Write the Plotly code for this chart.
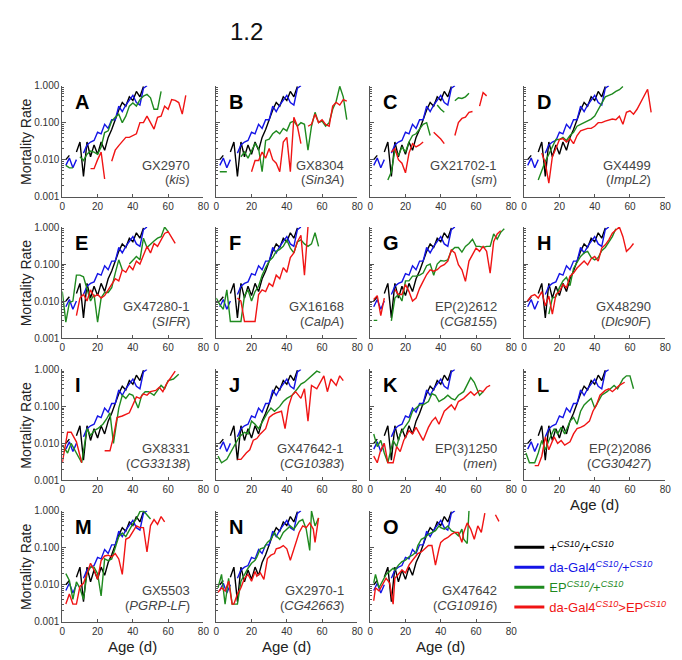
import plotly.graph_objects as go

# ---------------- data (mortality rate by age in days) ----------------
# shared controls
BLACK_AGE = [2,4,6,8,10,12,14,16,18,20,22,24,26,28,30,32,34,36,38,40,42,44,46]
BLACK_VAL = [0.010,0.013,None,0.016,0.03,0.0035,0.03,0.012,0.025,0.014,0.03,0.018,0.04,0.065,0.12,0.22,0.35,0.28,0.5,0.4,0.7,0.5,0.95]
BLUE_AGE = [2,4,6,8,10,12,14,16,18,20,22,24,26,28,30,32,34,36,38,40,42,44,46,48]
BLUE_VAL = [0.007,0.011,0.006,0.010,None,0.015,0.025,0.03,0.033,0.055,0.05,0.09,0.07,0.12,0.12,0.28,0.2,0.3,0.42,0.55,0.35,0.3,0.85,1.0]

A_GREEN_AGE = [2,4,6,8,10,12,14,16,18,20,22,24,26,28,30,32,34,36,38,40,42,44,46,48,50,52,54,56]
A_GREEN_VAL = [0.007,0.006,0.006,None,0.012,0.0095,0.014,0.017,0.016,0.014,0.022,0.054,0.06,0.11,0.14,0.17,0.1,0.15,0.28,0.34,0.28,0.42,0.52,0.58,0.47,0.23,0.23,0.7]
A_RED_AGE = [16,18,20,22,24,26,28,30,32,34,36,38,40,42,44,46,48,50,52,54,56,58,60,62,64,66,68,70]
A_RED_VAL = [0.0057,0.0057,0.01,0.016,0.003,None,0.009,0.018,0.024,0.03,0.04,0.04,0.044,0.05,0.1,0.1,0.15,0.1,0.067,0.14,0.15,0.28,0.23,0.42,0.4,0.35,0.17,0.55]

B_GREEN_AGE = [2,4,6,8,10,12,14,16,18,20,22,24,26,28,30,32,34,36,38,40,42,44,46,48,50,52,54,56,58,60,62,64,66,68,70,72,74]
B_GREEN_VAL = [0.0047,0.0047,0.0047,None,None,None,0.012,0.016,0.011,0.018,0.027,0.02,0.0047,0.033,0.036,0.05,0.06,0.05,0.07,0.06,0.1,0.11,0.08,0.1,0.09,0.018,0.08,0.19,0.1,0.11,0.08,0.1,0.23,0.38,0.96,0.5,0.12]
B_RED_AGE = [20,22,24,26,28,30,32,34,36,38,40,42,44,46,48,50,52,54,56,58,60,62,64,66,68,70,72,74]
B_RED_VAL = [0.0047,0.0095,0.0095,0.016,0.011,0.02,0.01,0.008,0.0047,0.03,0.04,0.0047,0.14,0.08,0.027,None,0.08,0.09,0.17,0.1,0.12,0.09,0.08,0.28,0.35,0.3,0.42,0.38]

C_GREEN_AGE = [10,12,14,16,18,20,22,24,26,28,30,32,34,36,38,40,42,44,46,48,50,52,54,56]
C_GREEN_VAL = [0.0028,0.0047,0.018,0.013,0.022,0.016,0.03,0.045,0.05,0.07,0.09,0.1,0.045,None,0.3,0.23,0.19,None,None,0.39,0.47,0.45,0.5,0.62]
C_RED_AGE = [12,14,16,18,20,22,24,26,28,30,32,34,36,38,40,42,44,46,48,50,52,54,56,58,60,62,64,66]
C_RED_VAL = [0.016,0.02,0.01,0.008,0.0044,0.015,0.027,0.022,0.025,0.03,None,None,0.055,0.045,0.036,0.027,None,None,0.045,0.1,0.13,0.14,0.19,0.2,None,0.28,0.65,0.53]

D_GREEN_AGE = [8,10,12,14,16,18,20,22,24,26,28,30,32,34,36,38,40,42,44,46,48,50,52,54,56]
D_GREEN_VAL = [0.0028,0.005,0.009,0.014,0.022,0.035,0.035,0.04,0.033,0.045,0.055,0.08,0.09,0.1,0.11,0.125,0.15,0.23,0.33,0.5,0.55,0.6,0.7,0.78,0.95]
D_RED_AGE = [10,12,14,16,18,20,22,24,26,28,30,32,34,36,38,40,42,44,46,48,50,52,54,56,58,60,62,64,66,68,70,72]
D_RED_VAL = [0.015,0.008,0.0023,0.012,0.02,0.035,0.037,0.03,0.037,0.027,0.045,0.06,0.065,0.07,0.07,0.08,0.1,0.1,0.11,0.12,0.125,0.12,0.15,0.09,0.19,0.21,0.17,0.23,0.35,0.5,0.8,0.19]

E_GREEN_AGE = [0,2,4,6,8,10,12,14,16,18,20,22,24,26,28,30,32,34,36,38,40,42,44,46,48,50,52,54,56,58,60]
E_GREEN_VAL = [0.018,0.0027,0.009,0.01,0.05,0.05,0.045,0.02,0.01,0.015,0.0027,0.012,0.017,0.017,0.023,0.057,0.13,0.07,None,0.1,0.13,0.16,0.13,0.5,0.28,0.35,0.42,0.5,0.55,1.0,0.75]
E_RED_AGE = [8,10,12,14,16,18,20,22,24,26,28,30,32,34,36,38,40,42,44,46,48,50,52,54,56,58,60,62,64]
E_RED_VAL = [0.004,0.012,0.015,0.01,0.02,0.013,0.015,0.012,0.014,0.02,0.028,0.04,0.035,0.07,0.06,0.09,0.07,0.12,0.1,0.18,0.3,0.2,0.36,0.3,0.45,0.67,0.75,0.5,0.36]

F_GREEN_AGE = [0,2,4,6,8,10,12,14,16,18,20,22,24,26,28,30,32,34,36,38,40,42,44,46,48,50,52,54,56,58]
F_GREEN_VAL = [0.012,0.008,0.006,0.02,0.0028,0.0028,0.0028,0.0028,0.014,0.02,0.01,0.018,0.025,0.05,0.08,0.12,0.15,0.22,0.25,0.3,0.45,0.27,0.2,0.4,0.45,0.35,0.3,0.35,0.7,0.3]
F_RED_AGE = [12,14,16,18,20,22,24,26,28,30,32,34,36,38,40,42,44,46,48,50,52]
F_RED_VAL = [0.012,0.01,0.0028,0.0028,0.0028,0.0028,0.015,0.02,0.018,0.03,0.025,0.05,0.04,0.08,0.06,0.15,0.2,0.4,0.6,0.05,1.0]

G_GREEN_AGE = [2,4,6,8,10,12,14,16,18,20,22,24,26,28,30,32,34,36,38,40,42,44,46,48,50,52,54,56,58,60,62,64,66,68,70,72,74,76]
G_GREEN_VAL = [0.003,0.003,None,None,None,0.0029,0.012,0.015,0.01,0.035,0.035,0.047,0.047,0.05,0.057,0.09,0.1,0.05,0.1,0.125,0.12,0.13,0.23,0.28,0.28,0.21,0.3,0.36,0.47,0.3,0.3,0.28,0.3,0.3,0.65,0.47,0.72,0.9]
G_RED_AGE = [2,4,6,8,10,12,14,16,18,20,22,24,26,28,30,32,34,36,38,40,42,44,46,48,50,52,54,56,58,60,62,64,66,68,70,72,74]
G_RED_VAL = [0.011,0.014,0.004,0.012,None,None,0.0205,0.015,0.015,0.028,0.018,0.01,0.012,0.022,0.034,0.052,0.07,0.064,0.07,0.087,0.096,0.12,0.24,0.2,0.096,0.07,0.034,0.12,0.18,0.27,0.22,0.3,0.22,0.057,0.4,0.65,0.8]

H_GREEN_AGE = [14,16,18,20,22,24,26,28,30,32,34,36,38,40,42,44,46,48,50,52]
H_GREEN_VAL = [0.0044,0.012,0.013,0.023,0.035,0.044,0.026,0.076,0.11,0.16,0.2,0.22,0.15,0.13,0.15,0.23,0.28,0.38,0.55,0.9]
H_RED_AGE = [2,4,6,8,10,12,14,16,18,20,22,24,26,28,30,32,34,36,38,40,42,44,46,48,50,52,54,56,58,60,62]
H_RED_VAL = [0.01,0.0136,0.015,0.012,0.018,0.0074,0.0136,0.0044,0.015,0.018,0.028,0.023,0.047,0.057,0.078,0.095,0.12,0.095,0.14,0.16,0.12,0.27,0.33,0.45,0.68,0.83,1.0,0.55,0.22,0.27,0.36]

I_GREEN_AGE = [0,3,5,7,11,14,16,18,20,23,25,27,29,32,34,36,38,40,43,45,47,49,52,54,56,58,60,63,66]
I_GREEN_VAL = [0.009,0.0055,0.01,0.0067,0.003,0.025,0.0165,0.022,0.025,0.033,0.045,0.067,0.01,0.09,0.2,0.165,0.22,0.2,0.09,0.2,0.25,0.25,0.2,0.27,0.37,0.3,0.5,0.55,0.74]
I_RED_AGE = [0,3,5,8,11,18,24,27,29,31,34,36,38,42,44,46,48,50,53,55,57,59,62,64]
I_RED_VAL = [0.003,0.02,0.02,0.011,0.003,None,0.0063,0.0063,0.015,0.05,0.055,0.06,0.067,0.18,0.165,0.22,0.2,0.25,0.27,0.33,0.25,0.4,0.67,0.9]

J_GREEN_AGE = [1,3,6,8,10,13,16,18,20,22,24,27,29,31,33,36,38,40,43,46,48,50,52,54,57,59]
J_GREEN_VAL = [0.0045,0.003,0.0037,0.0055,0.0082,0.015,0.02,0.018,0.04,0.033,0.025,0.045,0.067,0.09,0.074,0.1,0.135,0.165,0.2,0.3,0.4,0.45,0.55,0.67,0.9,0.82]
J_RED_AGE = [12,14,17,19,21,23,25,28,30,32,34,37,39,41,43,45,48,50,52,54,57,59,61,63,65,68,70,72]
J_RED_VAL = [0.0037,0.0037,0.0055,0.0067,0.0122,0.0135,0.018,0.025,0.05,0.06,0.067,0.074,0.025,0.1,0.2,0.25,0.165,0.3,0.04,0.37,0.3,0.45,0.67,0.25,0.55,0.37,0.67,0.5]

K_GREEN_AGE = [2,4,6,8,10,13,15,17,19,22,24,26,28,30,33,35,37,39,42,44,46,48,50,53,55,57,59,62,64]
K_GREEN_VAL = [0.018,0.0082,0.012,0.0055,0.003,0.012,0.0082,0.018,0.025,0.04,0.074,0.09,0.11,0.11,0.135,0.22,0.2,0.135,0.165,0.2,0.165,0.15,0.2,0.25,0.37,0.6,0.45,0.2,0.25]
K_RED_AGE = [2,4,6,8,10,13,15,17,19,22,24,26,28,30,33,35,37,39,42,44,46,48,50,53,55,57,59,62,64,66,68]
K_RED_VAL = [0.0045,0.003,0.0067,0.01,0.003,0.003,0.0082,0.006,0.012,0.022,0.018,0.027,0.018,0.012,0.027,0.04,0.05,0.033,0.074,0.09,0.11,0.082,0.135,0.165,0.2,0.25,0.2,0.27,0.25,0.33,0.37]

L_GREEN_AGE = [1,3,6,8,10,12,14,17,19,21,23,26,28,30,32,34,36,38,40,42,44,47,49,51,53,56,58,60,62]
L_GREEN_VAL = [0.0055,0.003,0.003,0.0055,0.012,0.0067,0.012,0.025,0.018,0.027,0.018,0.04,0.05,0.033,0.074,0.11,0.135,0.165,0.09,0.135,0.2,0.25,0.3,0.37,0.3,0.55,0.67,0.67,0.3]
L_RED_AGE = [6,8,10,12,14,17,19,21,23,26,28,30,32,34,37,39,41,43,46,48,50,52,54,57]
L_RED_VAL = [0.0025,0.0025,0.0045,0.015,0.0067,0.015,0.01,0.012,0.009,0.011,0.018,0.025,0.027,0.03,0.04,0.074,0.11,0.2,0.27,0.3,0.25,0.3,0.37,0.45]

M_GREEN_AGE = [2,4,6,8,10,12,14,16,18,20,22,24,26,28,30,32,34,36,38,40,42,44,46,48,50]
M_GREEN_VAL = [0.02,0.013,0.004,0.012,0.008,0.004,0.02,0.03,0.03,0.02,0.005,0.05,0.045,0.05,0.1,0.2,0.25,0.2,0.3,0.45,0.6,0.95,1.0,0.8,0.6]
M_RED_AGE = [2,4,6,8,10,12,14,16,18,20,22,24,26,28,30,32,34,36,38,40,42,44,46,48,50,52,54,56,58]
M_RED_VAL = [0.003,0.0056,0.003,0.003,0.009,0.011,0.02,0.038,0.025,0.014,0.045,0.06,0.063,0.057,0.07,0.05,0.019,0.17,0.19,0.28,0.39,0.35,0.35,0.077,0.4,0.58,0.43,0.7,0.5]

N_GREEN_AGE = [1,3,5,7,9,10,12,14,16,18,20,22,23,25,27,29,31,33,34,36,38,40,42,44,46,47,49,51,53,54,56,58]
N_GREEN_VAL = [0.0083,0.019,0.003,0.015,0.003,0.003,0.003,0.0125,0.019,0.028,0.038,0.046,0.056,0.094,0.1,0.14,0.17,0.26,0.21,0.17,0.26,0.32,0.39,0.32,0.47,0.52,0.58,0.32,0.085,1.0,0.39,0.64]
N_RED_AGE = [1,3,5,7,9,10,12,14,16,18,20,22,23,25,27,29,31,33,34,36,38,40,42,44,46,47,49,51,53,55,56,58]
N_RED_VAL = [0.0062,0.0083,0.0068,0.0125,0.003,0.003,0.0056,0.0083,0.015,0.019,0.0125,0.023,0.017,0.021,0.014,0.051,0.063,0.07,0.094,0.1,0.115,0.094,0.046,0.094,0.17,0.26,0.39,0.35,0.47,0.32,0.14,0.64]

O_GREEN_AGE = [2,3,5,7,9,11,13,14,16,18,20,22,24,26,27,29,31,33,35,37,39,40,42,44,46,48,50,52,53,55,56]
O_GREEN_VAL = [0.0113,0.019,0.0083,0.0125,0.019,0.023,0.028,0.025,0.034,0.042,0.046,0.057,0.063,0.077,0.115,0.17,0.19,0.23,0.26,0.29,0.39,0.35,0.32,0.39,0.29,0.26,0.21,0.32,0.17,0.13,1.0]
O_RED_AGE = [2,3,5,7,9,11,13,14,16,18,20,22,24,26,27,29,31,33,35,37,39,40,42,44,46,48,50,52,53,55,57,59,61,63,65,68,71,73]
O_RED_VAL = [0.0037,0.0083,0.0068,0.0102,0.015,0.0113,0.003,0.015,0.019,0.025,0.021,0.034,0.046,0.063,0.07,0.077,0.094,0.115,0.115,0.034,0.094,0.14,0.17,0.19,0.23,0.26,0.26,0.14,0.26,0.47,0.32,0.17,0.39,0.26,0.87,None,0.78,0.52]

PANEL_LETTERS = ["A","B","C","D","E","F","G","H","I","J","K","L","M","N","O"]
PANEL_LINES = ["GX2970","GX8304","GX21702-1","GX4499","GX47280-1","GX16168","EP(2)2612","GX48290",
               "GX8331","GX47642-1","EP(3)1250","EP(2)2086","GX5503","GX2970-1","GX47642"]
PANEL_GENES = ["kis","Sin3A","sm","ImpL2","SIFR","CalpA","CG8155","Dlc90F",
               "CG33138","CG10383","men","CG30427","PGRP-LF","CG42663","CG10916"]
GREEN = [(A_GREEN_AGE,A_GREEN_VAL),(B_GREEN_AGE,B_GREEN_VAL),(C_GREEN_AGE,C_GREEN_VAL),(D_GREEN_AGE,D_GREEN_VAL),
         (E_GREEN_AGE,E_GREEN_VAL),(F_GREEN_AGE,F_GREEN_VAL),(G_GREEN_AGE,G_GREEN_VAL),(H_GREEN_AGE,H_GREEN_VAL),
         (I_GREEN_AGE,I_GREEN_VAL),(J_GREEN_AGE,J_GREEN_VAL),(K_GREEN_AGE,K_GREEN_VAL),(L_GREEN_AGE,L_GREEN_VAL),
         (M_GREEN_AGE,M_GREEN_VAL),(N_GREEN_AGE,N_GREEN_VAL),(O_GREEN_AGE,O_GREEN_VAL)]
RED = [(A_RED_AGE,A_RED_VAL),(B_RED_AGE,B_RED_VAL),(C_RED_AGE,C_RED_VAL),(D_RED_AGE,D_RED_VAL),
       (E_RED_AGE,E_RED_VAL),(F_RED_AGE,F_RED_VAL),(G_RED_AGE,G_RED_VAL),(H_RED_AGE,H_RED_VAL),
       (I_RED_AGE,I_RED_VAL),(J_RED_AGE,J_RED_VAL),(K_RED_AGE,K_RED_VAL),(L_RED_AGE,L_RED_VAL),
       (M_RED_AGE,M_RED_VAL),(N_RED_AGE,N_RED_VAL),(O_RED_AGE,O_RED_VAL)]

X_TICKS = [0, 20, 40, 60, 80]
Y_TICKS = [0.001, 0.01, 0.1, 1]
Y_TICK_TEXT = ["0.001", "0.010", "0.100", "1.000"]

# ---------------- layout ----------------
W, H = 682, 660
COL_LEFT = [52, 208, 364, 520]
ROW_TOP = [73, 217, 362, 506]
PW, PH = 143, 113
C_BLACK, C_BLUE, C_GREEN, C_RED = "#000000", "#1414e6", "#1f8a1f", "#f01414"
FONT = "Liberation Sans, Arial, sans-serif"
AXC = "#555555"

fig = go.Figure()
layout = dict(width=W, height=H, margin=dict(l=0, r=0, t=0, b=0),
              paper_bgcolor="white", plot_bgcolor="white",
              font=dict(family=FONT, color="#333"), showlegend=True)
annotations = []

for k in range(15):
    r, c = divmod(k, 4)
    n = k + 1
    left, top = COL_LEFT[c], ROW_TOP[r]
    xs = "x" if n == 1 else f"x{n}"
    ys = "y" if n == 1 else f"y{n}"
    layout["xaxis" if n == 1 else f"xaxis{n}"] = dict(
        domain=[left / W, (left + PW) / W], range=[0, 80], tickvals=X_TICKS,
        ticks="inside", ticklen=3, tickcolor=AXC, showline=True, linecolor=AXC, linewidth=1,
        showgrid=False, zeroline=False, anchor=ys, tickfont=dict(size=10, color="#333"))
    layout["yaxis" if n == 1 else f"yaxis{n}"] = dict(
        domain=[1 - (top + PH) / H, 1 - top / H], type="log", range=[-3, 0],
        tickvals=Y_TICKS, ticktext=Y_TICK_TEXT, showticklabels=(c == 0),
        ticks="inside", ticklen=4, tickcolor=AXC,
        minor=dict(ticks="inside", ticklen=2, tickcolor=AXC, dtick="D1", showgrid=False),
        showline=True, linecolor=AXC, linewidth=1, showgrid=False, zeroline=False,
        anchor=xs, tickfont=dict(size=10, color="#333"))
    for (ag, vl), col in [((BLACK_AGE, BLACK_VAL), C_BLACK), ((BLUE_AGE, BLUE_VAL), C_BLUE),
                          (GREEN[k], C_GREEN), (RED[k], C_RED)]:
        fig.add_trace(go.Scatter(x=ag, y=vl, mode="lines", xaxis=xs, yaxis=ys,
                                 line=dict(color=col, width=1.4), connectgaps=False,
                                 showlegend=False, hoverinfo="skip"))
    annotations.append(dict(text=f"<b>{PANEL_LETTERS[k]}</b>", xref="paper", yref="paper",
                            x=(left + 11) / W, y=1 - (top + 3) / H, xanchor="left", yanchor="top",
                            showarrow=False, font=dict(size=20, color="#000", family=FONT)))
    annotations.append(dict(text=PANEL_LINES[k], xref="paper", yref="paper",
                            x=(left + PW - 12) / W, y=1 - (top + 81) / H, xanchor="right", yanchor="middle",
                            showarrow=False, font=dict(size=13, color="#444", family=FONT)))
    annotations.append(dict(text=f"(<i>{PANEL_GENES[k]}</i>)", xref="paper", yref="paper",
                            x=(left + PW - 12) / W, y=1 - (top + 96) / H, xanchor="right", yanchor="middle",
                            showarrow=False, font=dict(size=13, color="#444", family=FONT)))
    if c == 0:
        annotations.append(dict(text="Mortality Rate", xref="paper", yref="paper",
                                x=15 / W, y=1 - (top + PH / 2) / H, textangle=-90,
                                xanchor="center", yanchor="middle", showarrow=False,
                                font=dict(size=14, color="#222", family=FONT)))
    if r == 3 or k == 11:
        annotations.append(dict(text="Age (d)", xref="paper", yref="paper",
                                x=(left + PW / 2) / W, y=1 - (top + PH + 25) / H,
                                xanchor="center", yanchor="middle", showarrow=False,
                                font=dict(size=15, color="#222", family=FONT)))

annotations.append(dict(text="1.2", xref="paper", yref="paper", x=239 / W, y=1 - 18 / H,
                        xanchor="center", yanchor="middle", showarrow=False,
                        font=dict(size=24, color="#111", family=FONT)))

LEGEND_NAMES = [
    '<span style="color:#000000">+<sup><i>CS10</i></sup><i>/</i>+<sup><i>CS10</i></sup></span>',
    '<span style="color:#1414e6">da-Gal4<sup><i>CS10</i></sup><i>/</i>+<sup><i>CS10</i></sup></span>',
    '<span style="color:#1f8a1f">EP<sup><i>CS10</i></sup><i>/</i>+<sup><i>CS10</i></sup></span>',
    '<span style="color:#f01414">da-Gal4<sup><i>CS10</i></sup>&gt;EP<sup><i>CS10</i></sup></span>',
]
for name, col in zip(LEGEND_NAMES, [C_BLACK, C_BLUE, C_GREEN, C_RED]):
    fig.add_trace(go.Scatter(x=[None], y=[None], mode="lines", name=name,
                             line=dict(color=col, width=3), xaxis="x", yaxis="y", hoverinfo="skip"))

layout["legend"] = dict(x=505 / W, y=1 - 528 / H, xanchor="left", yanchor="top",
                        bgcolor="rgba(0,0,0,0)", font=dict(size=13, family=FONT),
                        itemwidth=30, tracegroupgap=0, traceorder="normal")
layout["annotations"] = annotations
fig.update_layout(**layout)
fig.write_html("out.html")
